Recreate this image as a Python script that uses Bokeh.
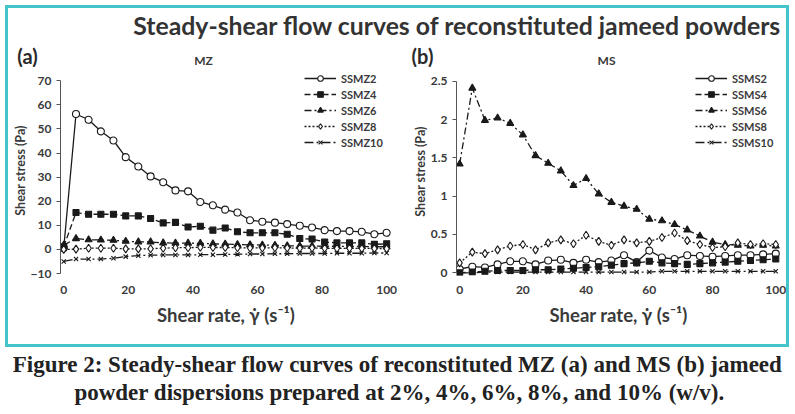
from bokeh.plotting import figure
from bokeh.models import Range1d, Legend, LegendItem, FixedTicker, SingleIntervalTicker
from bokeh.layouts import column, row
from bokeh.embed import file_html
from bokeh.resources import INLINE
from bokeh.core.properties import value

# Texts
title_text = "Steady-shear flow curves of reconstituted jameed powders"
caption_1 = "Figure 2: Steady-shear flow curves of reconstituted MZ (a) and MS (b) jameed"
caption_2 = "powder dispersions prepared at 2%, 4%, 6%, 8%, and 10% (w/v)."
panel_tags = ["(a)", "(b)"]
panel_names = ["MZ", "MS"]
x_label = "Shear rate, \u03b3\u0307 (s\u207b\u00b9)"
y_label = "Shear stress (Pa)"

# Panel (a) MZ - shear rate (1/s) and shear stress (Pa)
rate_mz = [0, 3.8, 7.7, 11.5, 15.4, 19.2, 23.1, 26.9, 30.8, 34.6, 38.5, 42.3, 46.2, 50.0,
           53.8, 57.7, 61.5, 65.4, 69.2, 73.1, 76.9, 80.8, 84.6, 88.5, 92.3, 96.2, 100]
ssmz2 = [0.5, 56.2, 53.8, 49.0, 45.2, 38.3, 34.4, 30.3, 27.9, 24.5, 24.1, 19.7, 18.3, 16.5,
         15.3, 12.1, 11.5, 11.1, 10.5, 9.8, 9.1, 8.0, 7.6, 7.6, 7.3, 6.3, 6.9]
ssmz4 = [1.1, 15.3, 14.6, 14.6, 14.6, 13.9, 13.9, 12.8, 11.0, 11.2, 9.3, 9.6, 8.0, 8.9,
         7.3, 6.9, 6.9, 6.9, 6.3, 4.5, 4.3, 3.1, 2.7, 2.7, 2.7, 2.1, 2.3]
ssmz6 = [1.8, 4.5, 4.0, 3.9, 3.8, 3.4, 3.1, 3.1, 2.7, 2.6, 2.6, 2.5, 2.3, 2.2,
         2.0, 1.9, 1.8, 1.7, 1.5, 1.4, 1.4, 1.3, 1.3, 1.2, 1.2, 1.1, 1.1]
ssmz8 = [0.0, 0.1, 0.5, 0.5, 0.5, 0.2, 0.2, 0.3, 0.5, 0.7, 0.7, 0.9, 0.8, 0.8,
         0.7, 0.6, 0.6, 0.7, 0.6, 0.5, 0.6, 0.5, 0.4, 0.5, 0.4, 0.4, 0.3]
ssmz10 = [-5.0, -4.0, -4.0, -4.0, -3.7, -3.0, -2.6, -2.4, -2.3, -2.3, -2.3, -2.2, -2.2, -2.1,
          -2.0, -1.9, -1.9, -1.8, -1.8, -1.7, -1.7, -1.7, -1.6, -1.6, -1.6, -1.5, -1.5]
names_mz = ["SSMZ2", "SSMZ4", "SSMZ6", "SSMZ8", "SSMZ10"]
ticks_mz = [-10, 0, 10, 20, 30, 40, 50, 60, 70]

# Panel (b) MS
rate_ms = [0, 4, 8, 12, 16, 20, 24, 28, 32, 36, 40, 44, 48, 52,
           56, 60, 64, 68, 72, 76, 80, 84, 88, 92, 96, 100]
ssms2 = [0.05, 0.08, 0.07, 0.11, 0.15, 0.15, 0.11, 0.16, 0.17, 0.13, 0.17, 0.14, 0.16, 0.23,
         0.14, 0.29, 0.20, 0.18, 0.23, 0.22, 0.21, 0.22, 0.23, 0.23, 0.24, 0.25]
ssms4 = [0.00, 0.01, 0.02, 0.03, 0.03, 0.03, 0.04, 0.04, 0.05, 0.06, 0.07, 0.08, 0.10, 0.12,
         0.13, 0.15, 0.13, 0.12, 0.11, 0.12, 0.13, 0.14, 0.15, 0.16, 0.17, 0.18]
ssms6 = [1.42, 2.41, 1.99, 2.02, 1.95, 1.80, 1.53, 1.43, 1.33, 1.14, 1.23, 1.03, 0.92, 0.87,
         0.83, 0.70, 0.68, 0.63, 0.56, 0.48, 0.40, 0.37, 0.36, 0.35, 0.36, 0.35]
ssms8 = [0.13, 0.27, 0.25, 0.30, 0.35, 0.37, 0.30, 0.39, 0.43, 0.38, 0.49, 0.41, 0.36, 0.43,
         0.39, 0.41, 0.46, 0.52, 0.42, 0.37, 0.33, 0.34, 0.39, 0.37, 0.38, 0.37]
ssms10 = [0.00, 0.00, 0.01, 0.01, 0.01, 0.01, 0.01, 0.01, 0.01, 0.01, 0.01, 0.01, 0.01, 0.01,
          0.01, 0.01, 0.02, 0.02, 0.02, 0.02, 0.02, 0.02, 0.02, 0.02, 0.02, 0.02]
names_ms = ["SSMS2", "SSMS4", "SSMS6", "SSMS8", "SSMS10"]
ticks_ms = [0, 0.5, 1, 1.5, 2, 2.5]

# Line / marker style per concentration (2, 4, 6, 8, 10 %)
dashes = ["solid", "6 3", "7 3 2 3", "2 2", "9 3 2 3"]
markers = ["circle", "square", "triangle", "diamond", "x"]
fills = ["white", "#1a1a1a", "#1a1a1a", "white", "#1a1a1a"]
sizes = [7, 6, 7, 8, 6]

FONT = "Lato"
TXT = "#3a3a3a"
INK = "#1a1a1a"


def make_panel(x, series, names, yr, bounds, ticks, fw, fh, left, right, bottom, tick_gap, leg_xy):
    p = figure(frame_width=fw, frame_height=fh, x_range=Range1d(-1, 101.5), y_range=Range1d(*yr),
               min_border_left=left, min_border_right=right, min_border_top=0,
               min_border_bottom=bottom, toolbar_location=None, output_backend="svg")
    items = []
    for i, ys in enumerate(series):
        ln = p.line(x, ys, line_color=INK, line_width=1.3, line_dash=dashes[i])
        sc = p.scatter(x, ys, marker=markers[i], size=sizes[i], line_color=INK, line_width=1.1,
                       fill_color=fills[i])
        items.append(LegendItem(label=names[i], renderers=[ln, sc]))

    leg = Legend(items=items, location=leg_xy, padding=0, margin=0, spacing=2,
                 glyph_width=32, glyph_height=14, label_height=14, label_standoff=5,
                 background_fill_alpha=0, border_line_color=None,
                 label_text_font=FONT, label_text_font_style="bold",
                 label_text_font_size="11px", label_text_color=TXT)
    p.add_layout(leg)

    p.xgrid.visible = False
    p.ygrid.visible = False
    p.outline_line_color = None

    p.xaxis.ticker = SingleIntervalTicker(interval=20)
    p.xaxis.axis_line_color = None
    p.xaxis.major_tick_line_color = None
    p.xaxis.minor_tick_line_color = None
    p.xaxis.major_tick_out = 0
    p.xaxis.major_label_standoff = tick_gap
    p.xaxis.axis_label = x_label
    p.xaxis.axis_label_standoff = 7
    p.xaxis.axis_label_text_font_size = "18.5px"

    p.yaxis.ticker = FixedTicker(ticks=ticks)
    p.yaxis.bounds = bounds
    p.yaxis.major_label_overrides = {0: "0", 1: "1", 2: "2"}
    p.yaxis.axis_line_color = "#555555"
    p.yaxis.major_tick_line_color = "#555555"
    p.yaxis.minor_tick_line_color = None
    p.yaxis.major_tick_in = 0
    p.yaxis.major_tick_out = 4
    p.yaxis.major_label_standoff = 5
    p.yaxis.axis_label = y_label
    p.yaxis.axis_label_standoff = 0
    p.yaxis.axis_label_text_font_size = "12.5px"

    for ax in p.axis:
        ax.major_label_text_font = FONT
        ax.major_label_text_font_style = "bold"
        ax.major_label_text_font_size = "12px"
        ax.major_label_text_color = TXT
        ax.axis_label_text_font = FONT
        ax.axis_label_text_font_style = "bold"
        ax.axis_label_text_color = TXT
    return p


pa = make_panel(rate_mz, [ssmz2, ssmz4, ssmz6, ssmz8, ssmz10], names_mz, (-10, 75.5), (-10, 70),
                ticks_mz, 331, 206, 52, 9, 71, 8, (244, 124))
pb = make_panel(rate_ms, [ssms2, ssms4, ssms6, ssms8, ssms10], names_ms, (-0.035, 2.679), (0, 2.5),
                ticks_ms, 324, 208, 56, 6, 69, 6, (239, 126))

# Header with the overall title and the panel tags
head = figure(width=778, height=59, x_range=Range1d(0, 778), y_range=Range1d(59, 0),
              x_axis_location=None, y_axis_location=None, min_border=0,
              toolbar_location=None, output_backend="svg")
head.grid.visible = False
head.outline_line_color = None
head.text(x=[449], y=[17], text=[title_text], text_font=value(FONT), text_font_style="bold",
          text_font_size="24.8px", text_color="#333333", text_align="center", text_baseline="middle")
head.text(x=[19, 414], y=[47, 47], text=panel_tags, text_font=value(FONT), text_font_style="bold",
          text_font_size="20px", text_color="#2a2a2a", text_align="center", text_baseline="middle")
head.text(x=[195, 598], y=[52, 52], text=panel_names, text_font=value(FONT), text_font_style="bold",
          text_font_size="12px", text_color=TXT, text_align="center", text_baseline="middle")

# Caption under the framed chart
cap = figure(width=790, height=62, x_range=Range1d(0, 790), y_range=Range1d(62, 0),
             x_axis_location=None, y_axis_location=None, min_border=0,
             toolbar_location=None, output_backend="svg")
cap.grid.visible = False
cap.outline_line_color = None
cap.text(x=[397, 399], y=[17, 45], text=[caption_1, caption_2], text_font=value("Liberation Serif"),
         text_font_style="bold", text_font_size="23px", text_color="#222222",
         text_align="center", text_baseline="middle")

box = column(head, row(pa, pb), styles={"border": "3px solid #44c5cb"}, margin=(5, 0, 0, 5))
p = column(box, cap)

open("out.html", "w").write(file_html(p, INLINE))
